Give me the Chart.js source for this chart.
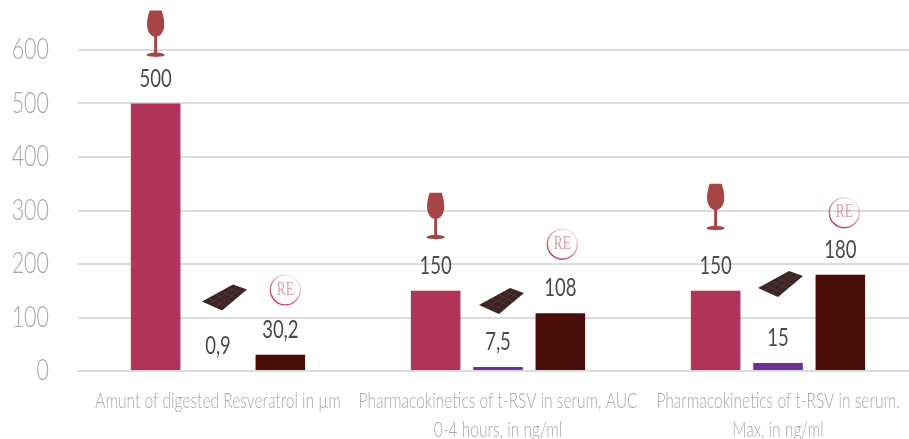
<!DOCTYPE html>
<html>
<head>
<meta charset="utf-8">
<style>
    html, body { margin: 0; padding: 0; background: #fff; overflow: hidden; }
    #wrap { width: 918px; height: 439px; }
</style>
<script src="https://cdn.jsdelivr.net/npm/chart.js@4"></script>
</head>
<body>
<div id="wrap"><canvas id="chart" width="918" height="439"></canvas></div>
<script>
// Data
const categories = [
    'Amunt of digested Resveratrol in \u00b5m',
    ['Pharmacokinetics of t-RSV in serum, AUC', '0-4 hours, in ng/ml'],
    ['Pharmacokinetics of t-RSV in serum.', 'Max, in ng/ml']
];
const wine = [500, 150, 150];
const chocolate = [0.9, 7.5, 15];
const resveratrol = [30.2, 108, 180];
const yTicks = [0, 100, 200, 300, 400, 500, 600];

// how far each icon sits above the top of its bar
const wineLift = [46, 51, 60];
const chocLift = [73, 66, 79];
const reLift = [65, 69, 62];
// and how far it is off the bar centre
const chocShift = [7, 4, 3];
const reShift = [5, 2, 4];

const SQUASH = 0.74;   // the original font is condensed, none installed so squeeze Lato

function drawGlass(ctx, x, bottom) {
    const t = bottom - 47;
    ctx.save();
    ctx.filter = 'blur(0.5px)';
    ctx.fillStyle = '#a44646';
    ctx.beginPath();
    ctx.moveTo(x - 6, t);
    ctx.lineTo(x + 6, t);
    ctx.bezierCurveTo(x + 8, t + 6, x + 9, t + 11, x + 8.5, t + 16);
    ctx.bezierCurveTo(x + 8, t + 22, x + 4, t + 26, x + 1.5, t + 26);
    ctx.lineTo(x + 1.5, t + 42);
    ctx.bezierCurveTo(x + 5, t + 42.5, x + 9, t + 43, x + 9, t + 44.5);
    ctx.bezierCurveTo(x + 9, t + 47, x - 9, t + 47, x - 9, t + 44.5);
    ctx.bezierCurveTo(x - 9, t + 43, x - 5, t + 42.5, x - 1.5, t + 42);
    ctx.lineTo(x - 1.5, t + 26);
    ctx.bezierCurveTo(x - 4, t + 26, x - 8, t + 22, x - 8.5, t + 16);
    ctx.bezierCurveTo(x - 9, t + 11, x - 8, t + 6, x - 6, t);
    ctx.fill();
    ctx.restore();
}

function drawChoc(ctx, x, y) {
    // corners of the tilted bar, left / top / right / bottom
    const L = [x - 23, y + 4], T = [x + 8, y - 13], R = [x + 22, y - 8], B = [x - 3, y + 13];
    ctx.save();
    ctx.filter = 'blur(0.6px)';
    ctx.fillStyle = '#3a2523';
    ctx.beginPath();
    ctx.moveTo(L[0], L[1]);
    ctx.lineTo(T[0], T[1]);
    ctx.lineTo(R[0], R[1]);
    ctx.lineTo(B[0], B[1]);
    ctx.closePath();
    ctx.fill();
    ctx.strokeStyle = 'rgba(110,80,75,0.45)';
    ctx.lineWidth = 0.8;
    for (let i = 1; i < 5; i++) {
        const f = i / 5;
        ctx.beginPath();
        ctx.moveTo(L[0] + (T[0] - L[0]) * f, L[1] + (T[1] - L[1]) * f);
        ctx.lineTo(B[0] + (R[0] - B[0]) * f, B[1] + (R[1] - B[1]) * f);
        ctx.stroke();
    }
    for (let i = 1; i < 3; i++) {
        const f = i / 3;
        ctx.beginPath();
        ctx.moveTo(L[0] + (B[0] - L[0]) * f, L[1] + (B[1] - L[1]) * f);
        ctx.lineTo(T[0] + (R[0] - T[0]) * f, T[1] + (R[1] - T[1]) * f);
        ctx.stroke();
    }
    ctx.restore();
}

function drawRe(ctx, x, y) {
    ctx.save();
    ctx.filter = 'blur(0.4px)';
    const g = ctx.createLinearGradient(x + 10, y - 12, x - 8, y + 14);
    g.addColorStop(0, 'rgba(190,70,90,0.12)');
    g.addColorStop(1, 'rgba(185,40,60,0.95)');
    ctx.strokeStyle = g;
    ctx.lineWidth = 1.4;
    ctx.beginPath();
    ctx.arc(x, y, 15, 0, Math.PI * 2);
    ctx.stroke();
    ctx.fillStyle = 'rgba(200,130,140,0.75)';
    ctx.font = '18px "Liberation Serif", serif';
    ctx.textAlign = 'center';
    ctx.textBaseline = 'middle';
    ctx.fillText('RE', x, y);
    ctx.restore();
}

// value labels and the little icons above the bars
const barExtras = {
    id: 'barExtras',
    afterDatasetsDraw(chart) {
        const ctx = chart.ctx;
        chart.data.datasets.forEach(function (ds, d) {
            chart.getDatasetMeta(d).data.forEach(function (bar, i) {
                ctx.save();
                ctx.fillStyle = '#4a4a4a';
                ctx.font = '25px Lato, sans-serif';
                ctx.textAlign = 'center';
                ctx.textBaseline = 'middle';
                ctx.fillText(String(ds.data[i]).replace('.', ','), bar.x, bar.y - 25);
                ctx.restore();
                if (d === 0) drawGlass(ctx, bar.x, bar.y - wineLift[i]);
                if (d === 1) drawChoc(ctx, bar.x + chocShift[i], bar.y - chocLift[i]);
                if (d === 2) drawRe(ctx, bar.x + reShift[i], bar.y - reLift[i]);
            });
        });
    }
};

const ctx = document.getElementById('chart').getContext('2d');

// squeeze all text horizontally around its anchor point
const plainFillText = ctx.fillText;
ctx.fillText = function (text, x, y) {
    this.save();
    this.translate(x, y);
    this.scale(SQUASH, 1);
    plainFillText.call(this, text, 0, 0);
    this.restore();
};

new Chart(ctx, {
    type: 'bar',
    data: {
        labels: categories,
        datasets: [
            { label: 'Wine', data: wine, backgroundColor: '#b0335a' },
            { label: 'Chocolate', data: chocolate, backgroundColor: '#70309a' },
            { label: 'Resveratrol', data: resveratrol, backgroundColor: '#4a0e0a' }
        ]
    },
    plugins: [barExtras],
    options: {
        responsive: false,
        animation: false,
        categoryPercentage: 0.668,
        barPercentage: 0.795,
        layout: { padding: { top: 50, right: 0, bottom: 0, left: 0 } },
        plugins: { legend: { display: false }, tooltip: { enabled: false } },
        scales: {
            x: {
                grid: { display: false },
                // baseline goes over the bars, it hides the 0,9 sliver like in the original
                border: { display: true, color: '#dcdcdc', width: 2, z: 1 },
                afterFit: function (scale) {
                    scale.height = 68;
                    scale.paddingLeft = 0;
                    scale.paddingRight = 0;
                },
                ticks: {
                    autoSkip: false,
                    maxRotation: 0,
                    minRotation: 0,
                    padding: 8,
                    color: '#a8a8a8',
                    font: { family: 'Lato, sans-serif', weight: '300', size: 21, lineHeight: 1.36 }
                }
            },
            y: {
                min: 0,
                max: 600,
                border: { display: false },
                grid: { color: '#dcdcdc', lineWidth: 2, drawTicks: false },
                afterFit: function (scale) { scale.width = 78; },
                afterBuildTicks: function (scale) {
                    scale.ticks = yTicks.map(function (v) { return { value: v }; });
                },
                ticks: {
                    padding: 29,
                    color: '#a8a8a8',
                    font: { family: 'Lato, sans-serif', weight: '300', size: 29 }
                }
            }
        }
    }
});
</script>
</body>
</html>
